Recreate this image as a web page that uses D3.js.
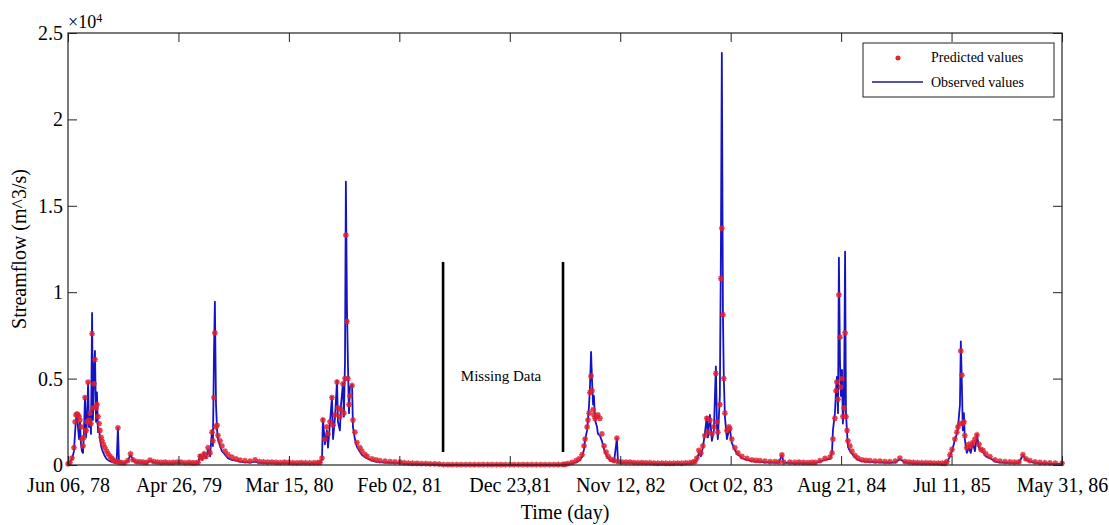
<!DOCTYPE html>
<html>
<head>
<meta charset="utf-8">
<script src="https://cdn.jsdelivr.net/npm/d3@7"></script>
<style>
  html, body { margin: 0; padding: 0; background: #fff; }
  svg { display: block; }
  text { font-family: "Liberation Serif", "Times New Roman", serif; fill: #000; }
</style>
</head>
<body>
<svg id="chart" width="1109" height="525"></svg>
<script>
// ---------------- DATA ----------------
const xTickValues = [0, 500, 1000, 1500, 2000, 2500, 3000, 3500, 4000, 4500];
const xTickLabels = ["Jun 06, 78", "Apr 26, 79", "Mar 15, 80", "Feb 02, 81", "Dec 23,81",
                     "Nov 12, 82", "Oct 02, 83", "Aug 21, 84", "Jul 11, 85", "May 31, 86"];
const yTickValues = [0, 5000, 10000, 15000, 20000, 25000];
const yTickLabels = ["0", "0.5", "1", "1.5", "2", "2.5"];

// sample index (time, day index)
const dayIndex = [
  0,9,18,27,32,36,41,45,50,54,59,63,68,72,77,82,86,91,95,100,104,109,113,118,122,127,131,136,141,145,150,154,160,167,175,182,190,198,204,212,220,226,231,240,255,270,283,295,310,325,340,355,371,388,405,422,440,458,476,494,512,530,548,563,
  575,589,598,607,616,625,634,643,652,656,661,665,670,675,679,688,697,711,724,742,761,779,801,824,847,866,885,904,923,942,961,980,999,1018,1037,1056,1075,1094,1113,1130,
  1141,1150,1154,1163,1172,1177,1186,1195,1200,1209,1218,1222,1231,1236,1245,1249,1254,1258,1263,1267,1272,1276,1286,1290,1299,1308,1322,1331,1345,1354,1376,1394,1412,1435,1458,1480,1503,1522,1541,1560,1580,1600,1620,1640,1660,1680,
  1700,1720,1740,1760,1780,1800,1820,1840,1860,1880,1900,1920,1940,1960,1980,2000,2020,2040,2060,2080,2100,2120,2140,2160,2180,2200,2220,2240,
  2250,2263,2282,2300,2313,2327,2336,2341,2350,2354,2359,2363,2368,2372,2377,2381,2386,2395,2399,2408,2417,2427,2436,2445,2458,2472,2485,2490,2508,2526,2544,2562,2580,2598,2616,2634,2652,2670,2688,2706,2724,2742,2760,2778,2796,2814,2828,
  2838,2847,2856,2865,2874,2883,2892,2897,2906,2915,2924,2933,2938,2942,2951,2956,2960,2965,2969,2974,2983,2992,2996,3005,3019,3033,3051,3074,3096,3115,3133,3155,3178,3200,3218,3232,3240,3268,3290,3310,3330,3350,3368,
  3382,3404,3427,3450,3459,3463,3472,3477,3481,3486,3490,3495,3499,3504,3508,3513,3518,3522,3527,3531,3540,3549,3563,3576,3594,3612,3631,3654,3676,3698,3720,3745,3766,3789,3808,3827,3846,3865,3884,3903,3922,3941,3958,
  3970,3979,3993,4002,4015,4024,4029,4038,4042,4047,4051,4056,4060,4069,4078,4087,4096,4106,4115,4124,4133,4142,4155,4174,4197,4219,4242,4264,4285,4305,4323,4337,4355,4378,4400,4422,4445,4470,4500
];

// observed streamflow (m^3/s)
const observed = [
  30,120,350,800,1900,2600,3000,2200,1500,2500,1200,800,700,1800,3950,1600,2600,4750,2200,2800,1800,8800,2600,5500,6600,2500,4200,1900,2100,1500,1100,900,700,500,350,280,220,180,150,130,120,2150,110,100,90,200,600,250,150,120,130,110,230,150,120,100,110,90,100,120,110,90,100,80,
  80,100,600,300,700,400,900,500,2000,1100,6600,9450,3500,2000,1500,1100,800,600,400,300,250,200,150,150,200,130,110,100,120,100,90,110,100,90,80,100,90,80,90,100,
  100,300,2700,1200,2000,1000,2400,3950,1500,2800,4900,2500,2000,3500,4750,2800,6000,16400,9000,6100,3000,4500,4650,2200,1500,1050,750,580,450,400,250,200,170,140,130,120,110,80,70,60,60,50,50,40,40,30,
  10,8,12,10,6,9,11,8,10,12,7,9,10,8,11,9,10,7,12,9,8,10,11,9,10,12,14,20,
  30,60,100,150,250,450,900,1450,2000,2600,3500,4500,6550,5000,3500,4000,2600,2200,1800,1700,1400,900,600,400,250,200,1550,150,130,120,120,100,90,100,80,90,80,70,80,70,60,70,80,70,80,90,120,
  150,300,700,500,1000,1800,2800,1600,2900,1400,2000,5700,2200,1500,4000,12800,23850,8700,5000,2800,1500,2000,2150,1300,870,600,400,300,220,200,180,160,150,140,130,580,120,120,100,110,100,90,100,
  100,200,300,350,750,2000,3000,4340,5100,3000,12000,6000,4000,5500,2400,3500,12350,3000,1850,1050,800,650,450,300,220,200,180,160,150,140,130,150,350,150,110,100,90,80,90,80,70,80,70,
  80,150,500,800,1450,1800,2150,3500,7150,4500,2000,3000,1500,700,1000,700,1300,800,1750,1000,870,750,500,400,200,150,130,120,110,130,580,300,200,130,100,90,80,70,70
];

// predicted streamflow (m^3/s)
const predicted = [
  60,150,400,1000,2500,2900,2950,2900,2800,2600,2200,1500,1100,1600,3900,2000,2500,4800,2600,3000,2400,7600,3300,4700,6100,3300,3500,2800,2400,2000,1600,1400,1200,1000,800,650,500,380,300,230,200,2150,170,140,120,250,650,300,200,180,160,150,280,200,170,150,160,140,150,170,160,130,150,120,
  120,150,500,400,650,500,1000,700,1900,1400,3900,7650,2200,2300,1700,1400,1100,800,600,450,350,280,250,220,300,200,180,160,170,150,140,160,150,130,120,140,130,120,130,140,
  150,400,2600,1500,2200,1800,2500,3900,2300,2900,4800,3300,2800,3200,4700,3000,5000,13300,8300,5000,3500,4000,4600,2600,1900,1300,1000,800,600,500,350,300,250,220,200,180,170,130,110,100,90,80,80,70,60,50,
  20,25,20,22,18,24,20,26,21,19,23,20,25,22,18,21,24,20,22,26,19,21,23,20,25,22,28,32,
  40,80,150,250,350,600,1100,1500,2200,2600,3000,4200,5150,4300,3200,2900,2700,2800,2900,2700,1800,1100,750,500,320,260,1550,200,170,160,160,140,130,140,120,130,110,100,110,100,90,100,110,100,120,130,160,
  200,400,850,700,1100,1700,2700,1900,2600,1800,2200,5300,2500,1900,3500,10800,13700,8700,5000,3000,2000,2200,2100,1500,1000,700,500,380,300,270,250,220,200,190,180,580,170,170,150,160,150,140,150,
  150,250,380,450,700,1500,2700,4300,4800,3800,9850,7400,4500,5000,2800,3300,7650,2800,2000,1400,1100,800,550,400,300,270,250,230,220,200,190,220,400,200,160,150,140,130,130,120,110,110,100,
  100,200,600,900,1500,1900,2200,2400,6600,5200,2400,2500,1700,1000,1200,1100,1300,1500,1750,1200,900,850,650,480,300,220,190,180,160,180,600,350,250,180,150,130,120,110,100
];

// annotation values for the missing-data gap
const gapStart = 1698, gapEnd = 2241;
const gapLow = 750, gapHigh = 11750;
const gapLabel = "Missing Data";

// ---------------- CHART ----------------
const W = 1109, H = 525;
const m = { left: 68, right: 47, top: 33, bottom: 60 };
const svg = d3.select("#chart");
const x = d3.scaleLinear().domain([0, 4500]).range([m.left, W - m.right]);
const y = d3.scaleLinear().domain([0, 25000]).range([H - m.bottom, m.top]);

const FONT = 20;

// observed line
const data = dayIndex.map((d, i) => ({ x: d, o: observed[i], p: predicted[i] }));
const line = d3.line().x(d => x(d.x)).y(d => y(d.o));
svg.append("path")
  .datum(data)
  .attr("d", line)
  .attr("fill", "none")
  .attr("stroke", "#1414c4")
  .attr("stroke-width", 1.8)
  .attr("stroke-linejoin", "round");

// predicted asterisk markers
function star(cx, cy, r) {
  const rr = r * 0.72;
  return `M${cx - r},${cy}H${cx + r}M${cx},${cy - r}V${cy + r}` +
         `M${cx - rr},${cy - rr}L${cx + rr},${cy + rr}M${cx - rr},${cy + rr}L${cx + rr},${cy - rr}`;
}
svg.append("g")
  .selectAll("path")
  .data(data)
  .join("path")
  .attr("d", d => star(x(d.x), y(d.p), 2.9))
  .attr("fill", "none")
  .attr("stroke", "#e0202e")
  .attr("stroke-width", 1.5)
  .attr("opacity", 0.85);

// gap annotation
[gapStart, gapEnd].forEach(g => {
  svg.append("line")
    .attr("x1", x(g)).attr("x2", x(g))
    .attr("y1", y(gapLow)).attr("y2", y(gapHigh))
    .attr("stroke", "#000").attr("stroke-width", 2.6);
});
svg.append("text")
  .attr("x", x((gapStart + gapEnd) / 2) - 2)
  .attr("y", y(5000) + 2)
  .attr("text-anchor", "middle")
  .attr("font-size", 15)
  .text(gapLabel);

// axes
const xb = d3.axisBottom(x).tickValues(xTickValues)
  .tickFormat((d, i) => xTickLabels[i]).tickSizeInner(-9).tickSizeOuter(0).tickPadding(13);
const xt = d3.axisTop(x).tickValues(xTickValues)
  .tickFormat("").tickSizeInner(-9).tickSizeOuter(0);
const yl = d3.axisLeft(y).tickValues(yTickValues)
  .tickFormat((d, i) => yTickLabels[i]).tickSizeInner(-9).tickSizeOuter(0).tickPadding(5);
const yr = d3.axisRight(y).tickValues(yTickValues)
  .tickFormat("").tickSizeInner(-9).tickSizeOuter(0);

function styleAxis(g) {
  g.select(".domain").remove();
  g.selectAll(".tick line").attr("stroke", "#222").attr("stroke-width", 1);
  g.selectAll("text").attr("font-size", FONT)
    .attr("font-family", '"Liberation Serif", "Times New Roman", serif').attr("fill", "#000");
}
svg.append("g").attr("transform", `translate(0,${H - m.bottom})`).call(xb).call(styleAxis);
svg.append("g").attr("transform", `translate(0,${m.top})`).call(xt).call(styleAxis);
svg.append("g").attr("transform", `translate(${m.left},0)`).call(yl).call(styleAxis);
svg.append("g").attr("transform", `translate(${W - m.right},0)`).call(yr).call(styleAxis);

// frame
svg.append("rect")
  .attr("x", m.left).attr("y", m.top)
  .attr("width", W - m.left - m.right).attr("height", H - m.top - m.bottom)
  .attr("fill", "none").attr("stroke", "#222").attr("stroke-width", 1.2);

// exponent label
const ex = svg.append("text").attr("x", m.left).attr("y", 28).attr("font-size", 18);
ex.append("tspan").text("×10");
ex.append("tspan").attr("font-size", 12).attr("dy", -6).text("4");

// axis titles
svg.append("text")
  .attr("x", (m.left + W - m.right) / 2)
  .attr("y", 519)
  .attr("text-anchor", "middle")
  .attr("font-size", FONT)
  .text("Time (day)");
svg.append("text")
  .attr("transform", `translate(26,${(m.top + H - m.bottom) / 2}) rotate(-90)`)
  .attr("text-anchor", "middle")
  .attr("font-size", FONT)
  .text("Streamflow (m^3/s)");

// legend
const lg = svg.append("g");
lg.append("rect").attr("x", 863).attr("y", 43).attr("width", 191).attr("height", 54)
  .attr("fill", "#fff").attr("stroke", "#222").attr("stroke-width", 1);
lg.append("path").attr("d", star(898, 58, 2.6))
  .attr("fill", "none").attr("stroke", "#e0202e").attr("stroke-width", 1.4);
lg.append("text").attr("x", 931).attr("y", 62).attr("font-size", 14).text("Predicted values");
lg.append("line").attr("x1", 872).attr("x2", 923).attr("y1", 82).attr("y2", 82)
  .attr("stroke", "#1a1a8a").attr("stroke-width", 1.5);
lg.append("text").attr("x", 931).attr("y", 87).attr("font-size", 14).text("Observed values");
</script>
</body>
</html>
